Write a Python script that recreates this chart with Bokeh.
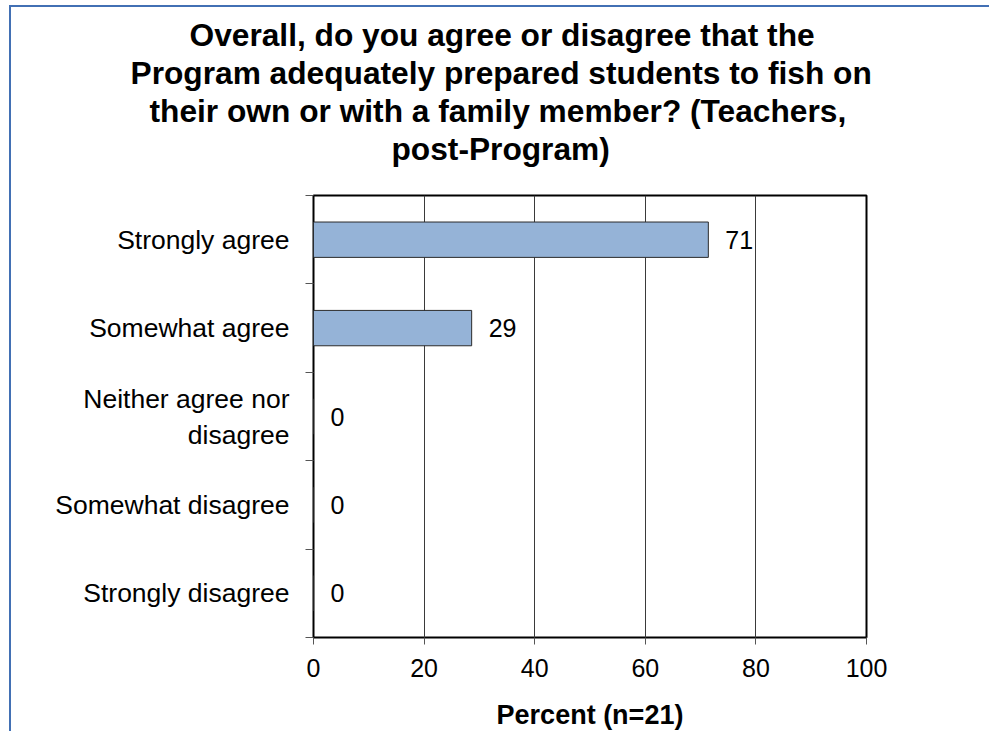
from bokeh.plotting import figure
from bokeh.models import Range1d, FixedTicker, Title, ColumnDataSource
from bokeh.embed import file_html
from bokeh.resources import INLINE
from bokeh.core.properties import value

categories = ["Strongly agree", "Somewhat agree", "Neither agree nor\ndisagree",
              "Somewhat disagree", "Strongly disagree"]
percents = [71.4, 28.6, 0, 0, 0]
value_labels = ["71", "29", "0", "0", "0"]
x_ticks = [0, 20, 40, 60, 80, 100]
title_lines = ["Overall, do you agree or disagree that the",
               "Program adequately prepared students to fish on",
               "their own or with a family member? (Teachers,",
               "post-Program)"]
x_label = "Percent (n=21)"

FONT = "Liberation Sans"
n = len(categories)
ypos = [n - i - 0.5 for i in range(n)]

p = figure(width=980, height=726, output_backend="svg", toolbar_location=None,
           x_range=Range1d(0, 100), y_range=Range1d(0, n),
           min_border_left=302, min_border_right=125,
           min_border_top=188, min_border_bottom=96)
p.styles = {"border-top": "2px solid #4270B4", "border-left": "2px solid #4270B4",
            "margin-top": "5px", "margin-left": "9px"}

src = ColumnDataSource(dict(y=ypos, v=percents, lab=value_labels))
p.hbar(y="y", left=0, right="v", height=0.4, source=src,
       fill_color="#95B3D7", line_color="#2B2B2B", line_width=1)
p.text(x="v", y="y", text="lab", source=src, x_offset=17,
       text_align="left", text_baseline="middle", text_color="black",
       text_font=value(FONT), text_font_size="25px")

p.outline_line_color = "black"
p.outline_line_width = 2
p.background_fill_color = "white"
p.border_fill_color = "white"

p.ygrid.visible = False
p.xgrid.ticker = FixedTicker(ticks=x_ticks)
p.xgrid.grid_line_color = "#3a3a3a"
p.xgrid.grid_line_width = 1

xa = p.xaxis[0]
xa.ticker = FixedTicker(ticks=x_ticks, minor_ticks=[])
xa.axis_line_color = None
xa.major_tick_in = 0
xa.major_tick_out = 7
xa.major_tick_line_color = "#555555"
xa.major_label_standoff = 14
xa.major_label_text_font = FONT
xa.major_label_text_font_size = "25px"
xa.major_label_text_color = "black"
xa.axis_label = x_label
xa.axis_label_text_font = FONT
xa.axis_label_text_font_size = "27px"
xa.axis_label_text_font_style = "bold"
xa.axis_label_text_color = "black"
xa.axis_label_standoff = 20

ya = p.yaxis[0]
ya.ticker = FixedTicker(ticks=ypos, minor_ticks=list(range(n + 1)))
ya.major_label_overrides = {y: c for y, c in zip(ypos, categories)}
ya.axis_line_color = None
ya.major_tick_line_color = None
ya.major_tick_in = 0
ya.major_tick_out = 0
ya.minor_tick_in = 0
ya.minor_tick_out = 8
ya.minor_tick_line_color = "#555555"
ya.major_label_standoff = 16
ya.major_label_text_font = FONT
ya.major_label_text_font_size = "26.5px"
ya.major_label_text_color = "black"

# title: one Title per line, horizontally offset from the frame's left edge
title_offsets = [-124, -183, -164, 78]
titles = [Title(text=line, align="left", offset=off, standoff=0,
                text_font=FONT, text_font_style="bold",
                text_font_size="31.7px", text_color="black")
          for line, off in zip(title_lines, title_offsets)]
p.title = titles[0]
# spacer between the title block and the plot frame
p.add_layout(Title(text=" ", standoff=0, text_font=FONT, text_font_size="24px"), "above")
for t in reversed(titles[1:]):
    p.add_layout(t, "above")

open("out.html", "w").write(file_html(p, INLINE))
